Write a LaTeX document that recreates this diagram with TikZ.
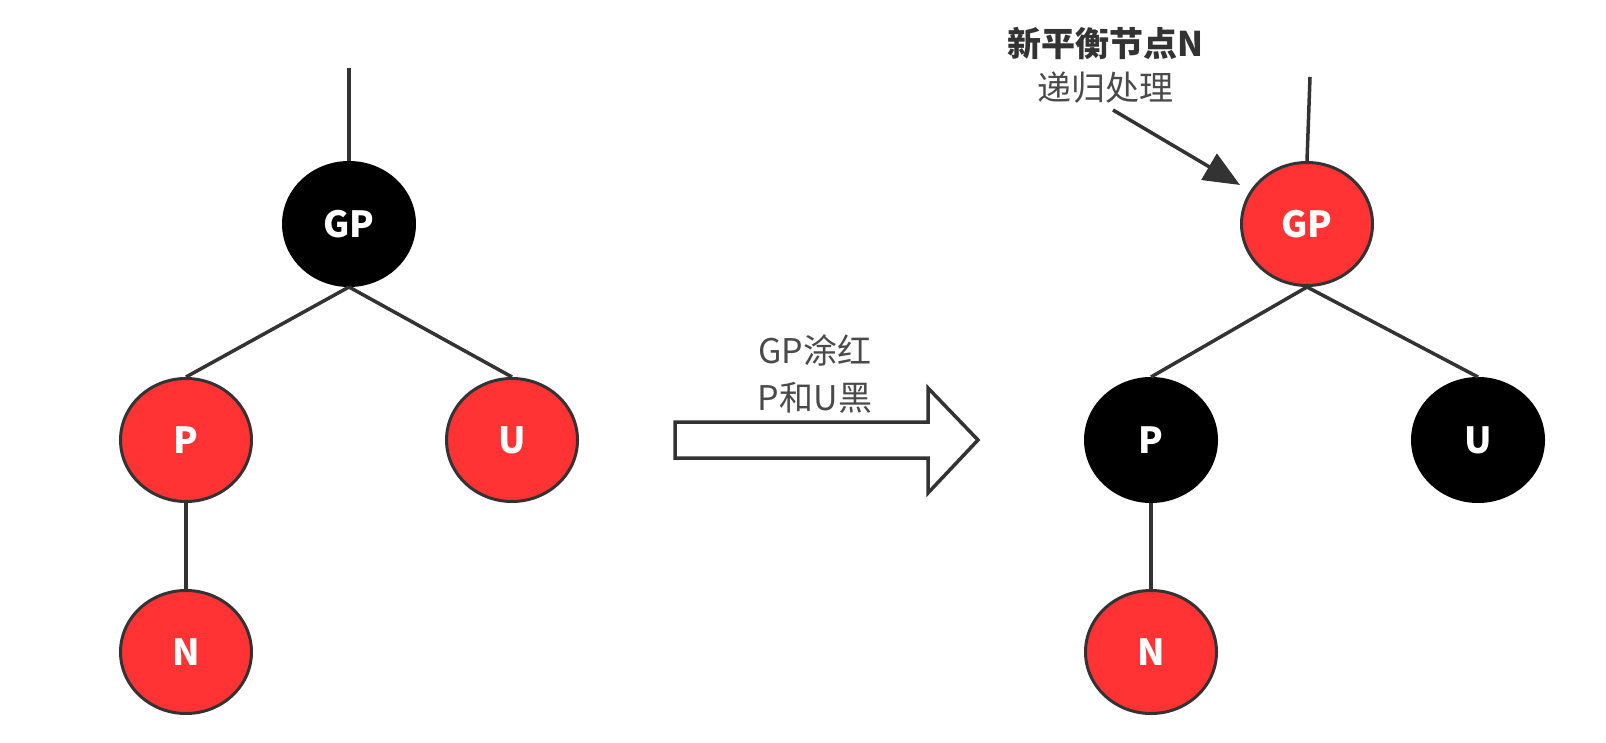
\documentclass[tikz,border=0pt]{standalone}
\usepackage{fontspec}
\setmainfont{Noto Sans CJK SC}
\usetikzlibrary{shapes.geometric,arrows.meta}
\definecolor{rbred}{HTML}{FF3333}
\definecolor{edgegray}{HTML}{333333}
\definecolor{txtgray}{HTML}{4A4A4A}
\begin{document}
\begin{tikzpicture}[x=1pt,y=-1pt,
  rbnode/.style={ellipse,minimum width=131pt,minimum height=123pt,inner sep=0pt,
     draw=edgegray,line width=3pt,text=white,font=\fontsize{36}{40}\selectfont\bfseries},
  rednode/.style={rbnode,fill=rbred},
  blacknode/.style={rbnode,fill=black,draw=black},
  treeedge/.style={draw=edgegray,line width=3.5pt},
  label/.style={text=txtgray,font=\fontsize{34}{38}\selectfont,inner sep=0pt},
]
\useasboundingbox (0,0) rectangle (1606,743);
\fill[white] (0,0) rectangle (1606,743);

% left tree
\node[blacknode] (lgp) at (349,224) {GP};
\node[rednode] (lp) at (186,440) {P};
\node[rednode] (lu) at (512,440) {U};
\node[rednode] (ln) at (186,652) {N};
\coordinate (ltop) at (349,68);
\draw[treeedge] (ltop) -- (lgp.north);
\draw[treeedge] (lgp.south) -- (lp.north);
\draw[treeedge] (lgp.south) -- (lu.north);
\draw[treeedge] (lp.south) -- (ln.north);

% right tree
\node[rednode] (rgp) at (1307,224) {GP};
\node[blacknode] (rp) at (1151,440) {P};
\node[blacknode] (ru) at (1478,440) {U};
\node[rednode] (rn) at (1151,652) {N};
\coordinate (rtop) at (1310,77);
\draw[treeedge] (rtop) -- (rgp.north);
\draw[treeedge] (rgp.south) -- (rp.north);
\draw[treeedge] (rgp.south) -- (ru.north);
\draw[treeedge] (rp.south) -- (rn.north);

% transition arrow
\draw[draw=edgegray,line width=3.5pt,fill=white,line join=miter]
  (675,422) -- (928,422) -- (928,388) -- (978,440) -- (928,493) -- (928,458) -- (675,458) -- cycle;
\node[label] (t1) at (815,350) {GP涂红};
\node[label] (t2) at (815,398) {P和U黑};

% annotation
\node[label,text=edgegray,font=\fontsize{34}{38}\selectfont\bfseries] (a1) at (1105,43) {新平衡节点N};
\node[label] (a2) at (1105,88) {递归处理};
\coordinate (atail) at (1113,110);
\coordinate (atip) at (1240,185);
\draw[edgegray,line width=3.5pt,-{Triangle[length=36pt,width=30pt]}] (atail) -- (atip);
\end{tikzpicture}
\end{document}
